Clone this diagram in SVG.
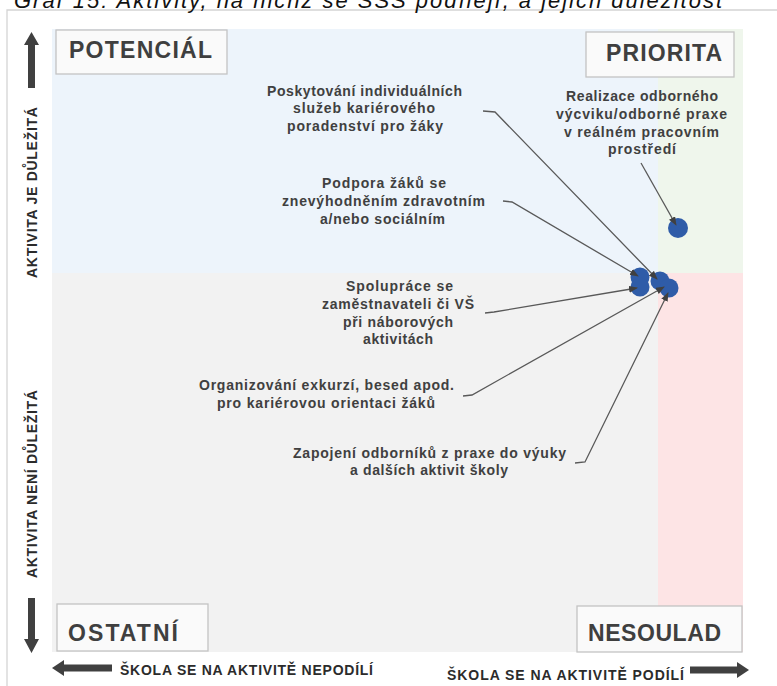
<svg xmlns="http://www.w3.org/2000/svg" width="777" height="686" viewBox="0 0 777 686">
<defs>
<style>
.lbl{font-family:"Liberation Sans",Arial,sans-serif;font-weight:bold;font-size:14px;fill:#404040;text-anchor:middle}
.quad{font-family:"Liberation Sans",Arial,sans-serif;font-weight:bold;font-size:23px;fill:#3f3f3f}
.qbox{fill:#fafafa;stroke:#c3c3c3;stroke-width:1.3}
.axis{font-family:"Liberation Sans",Arial,sans-serif;font-weight:bold;font-size:14px;fill:#2b2b2b}
.arr{fill:#404040}
.dot{fill:#2f5ca8}
.con{fill:none;stroke:#595959;stroke-width:1.3}
</style>
<marker id="ah" markerUnits="userSpaceOnUse" markerWidth="9" markerHeight="7" refX="8" refY="3.5" orient="auto">
<path d="M0,0 L9,3.5 L0,7 z" fill="#404040"/>
</marker>
</defs>
<rect width="777" height="686" fill="#ffffff"/>
<path d="M7,686 V10 H777" fill="none" stroke="#d4d4d4" stroke-width="1.3"/>
<text x="14" y="8" font-family="'Liberation Sans',Arial,sans-serif" font-style="italic" font-size="22" fill="#111" textLength="708" lengthAdjust="spacing">Graf 15: Aktivity, na nichž se SŠS podílejí, a jejich důležitost</text>

<g id="quadrants">
<rect x="52" y="29" width="606" height="244" fill="#edf4fb"/>
<rect x="658" y="29" width="85" height="244" fill="#eff6ec"/>
<rect x="52" y="273" width="606" height="379" fill="#f2f2f2"/>
<rect x="658" y="273" width="85" height="379" fill="#fde4e5"/>
</g>

<g id="q-potencial"><rect class="qbox" x="56" y="30" width="171" height="44"/><text class="quad" x="69" y="58" textLength="143" lengthAdjust="spacing">POTENCIÁL</text></g>
<g id="q-priorita"><rect class="qbox" x="586" y="32" width="148" height="45"/><text class="quad" x="606" y="61" textLength="116" lengthAdjust="spacing">PRIORITA</text></g>
<g id="q-ostatni"><rect class="qbox" x="57" y="604" width="151" height="47"/><text class="quad" x="68" y="641" font-size="24" textLength="110" lengthAdjust="spacing">OSTATNÍ</text></g>
<g id="q-nesoulad"><rect class="qbox" x="577" y="606" width="165" height="46"/><text class="quad" x="588" y="641" font-size="24" textLength="133" lengthAdjust="spacing">NESOULAD</text></g>

<g id="axis-y">
<path class="arr" d="M28,88 V45 H24 L31.5,32 L39,45 H35 V88 z"/>
<path class="arr" d="M28,598 V639 H24 L31.5,653 L39,639 H35 V598 z"/>
<text class="axis" transform="translate(37,192.5) rotate(-90)" text-anchor="middle" textLength="171" lengthAdjust="spacing">AKTIVITA  JE DŮLEŽITÁ</text>
<text class="axis" transform="translate(37,484) rotate(-90)" text-anchor="middle" textLength="188" lengthAdjust="spacing">AKTIVITA  NENÍ  DŮLEŽITÁ</text>
</g>
<g id="axis-x">
<path class="arr" d="M112,664.5 H64 V660 L52,668 L64,676 V671.5 H112 z"/>
<path class="arr" d="M690,666.5 H737 V662 L749,670 L737,678 V673.5 H690 z"/>
<text class="axis" x="120" y="675" textLength="253" lengthAdjust="spacing">ŠKOLA  SE  NA  AKTIVITĚ  NEPODÍLÍ</text>
<text class="axis" x="447" y="680" textLength="237" lengthAdjust="spacing">ŠKOLA  SE  NA  AKTIVITĚ  PODÍLÍ</text>
</g>

<g id="points">
<circle class="dot" cx="678" cy="228" r="10"/>
<circle class="dot" cx="640" cy="277" r="9.5"/>
<circle class="dot" cx="640" cy="287" r="9.5"/>
<circle class="dot" cx="660" cy="281" r="9.5"/>
<circle class="dot" cx="669" cy="288" r="9.5"/>
</g>

<g id="n-poskytovani">
<text class="lbl" x="364.5" y="96" textLength="195" lengthAdjust="spacing">Poskytování individuálních</text>
<text class="lbl" x="364" y="113" textLength="142" lengthAdjust="spacing">služeb kariérového</text>
<text class="lbl" x="365" y="131" textLength="156" lengthAdjust="spacing">poradenství pro žáky</text>
</g>
<g id="n-podpora">
<text class="lbl" x="384" y="188" textLength="124" lengthAdjust="spacing">Podpora žáků se</text>
<text class="lbl" x="383.5" y="206" textLength="203" lengthAdjust="spacing">znevýhodněním  zdravotním</text>
<text class="lbl" x="382.5" y="224" textLength="125" lengthAdjust="spacing">a/nebo sociálním</text>
</g>
<g id="n-realizace">
<text class="lbl" x="642" y="101" textLength="152" lengthAdjust="spacing">Realizace odborného</text>
<text class="lbl" x="641.5" y="119" textLength="171" lengthAdjust="spacing">výcviku/odborné  praxe</text>
<text class="lbl" x="641.5" y="137" textLength="155" lengthAdjust="spacing">v reálném pracovním</text>
<text class="lbl" x="642" y="154" textLength="68" lengthAdjust="spacing">prostředí</text>
</g>
<g id="n-spoluprace">
<text class="lbl" x="399.5" y="291" textLength="107" lengthAdjust="spacing">Spolupráce se</text>
<text class="lbl" x="398" y="309" textLength="152" lengthAdjust="spacing">zaměstnavateli či VŠ</text>
<text class="lbl" x="398" y="327" textLength="110" lengthAdjust="spacing">při náborových</text>
<text class="lbl" x="398" y="344" textLength="70" lengthAdjust="spacing">aktivitách</text>
</g>
<g id="n-organizovani">
<text class="lbl" x="326.5" y="390" textLength="255" lengthAdjust="spacing">Organizování  exkurzí, besed apod.</text>
<text class="lbl" x="326" y="408" textLength="218" lengthAdjust="spacing">pro kariérovou orientaci žáků</text>
</g>
<g id="n-zapojeni">
<text class="lbl" x="429.5" y="458" textLength="273" lengthAdjust="spacing">Zapojení  odborníků  z praxe do výuky</text>
<text class="lbl" x="429" y="475" textLength="158" lengthAdjust="spacing">a dalších aktivit školy</text>
</g>

<g id="connectors">
<polyline class="con" marker-end="url(#ah)" points="483,111 495,112 657,279"/>
<polyline class="con" marker-end="url(#ah)" points="503,201 512,202 638,276"/>
<polyline class="con" marker-end="url(#ah)" points="641,163 676,225"/>
<polyline class="con" marker-end="url(#ah)" points="485,313 494,312 637,288"/>
<polyline class="con" marker-end="url(#ah)" points="463,396 472,395 664,287"/>
<polyline class="con" marker-end="url(#ah)" points="575,463 585,462 668,293"/>
</g>
</svg>
